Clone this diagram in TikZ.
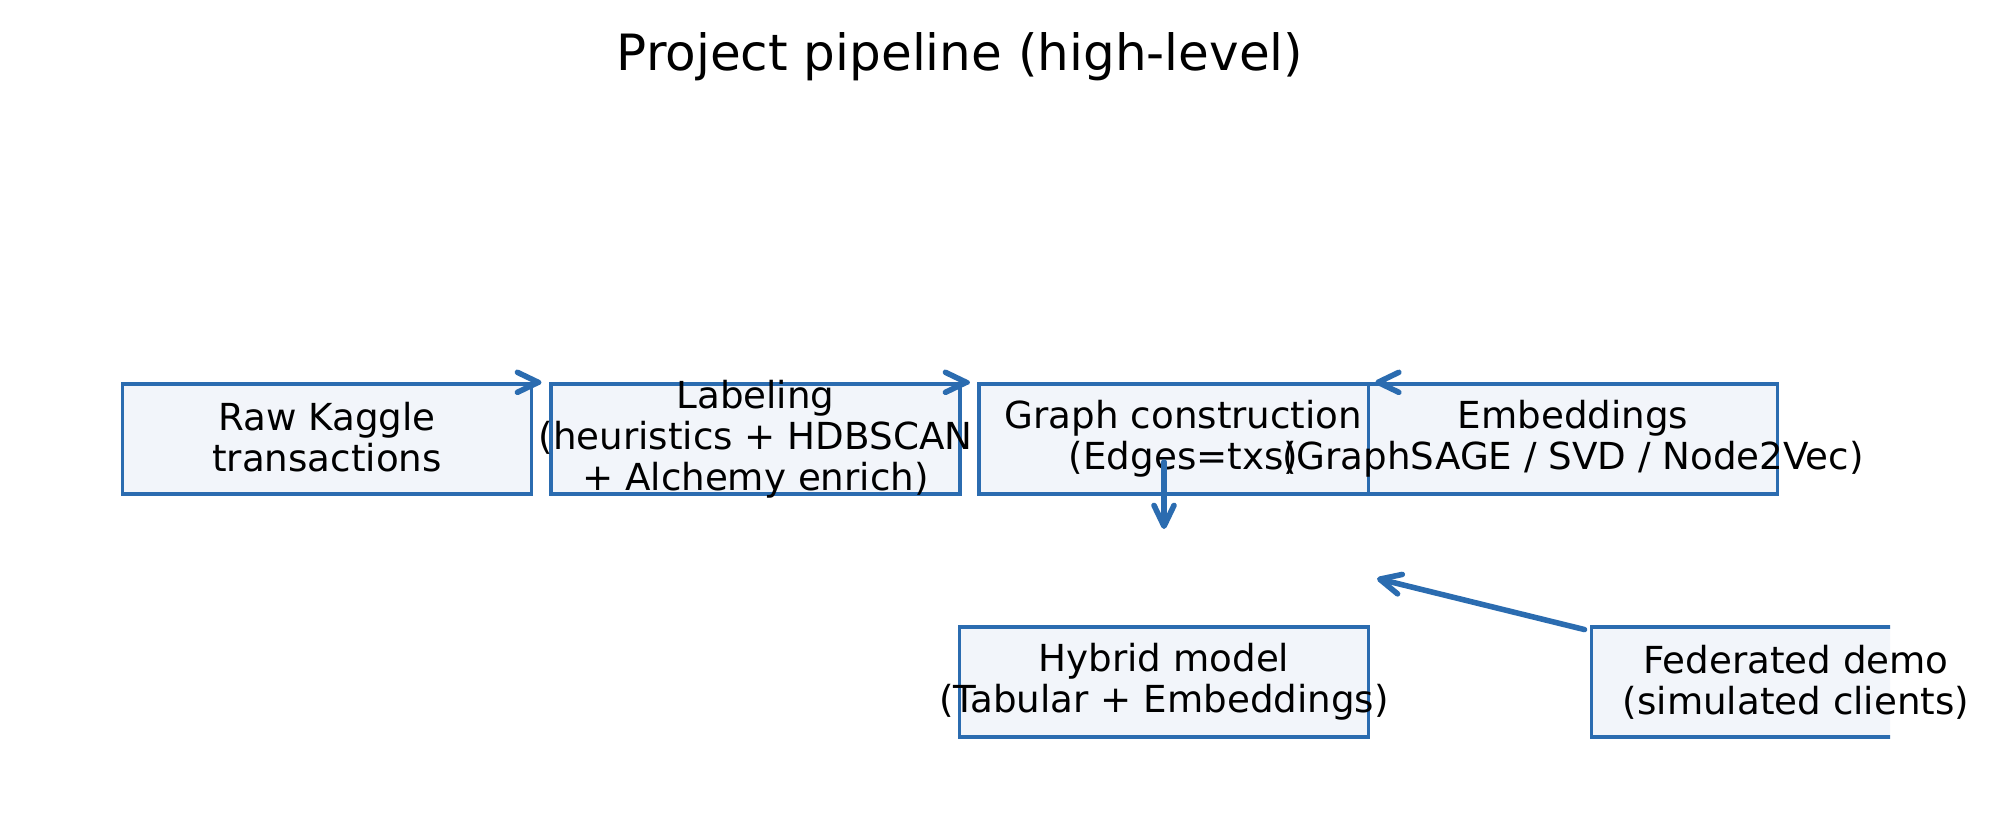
\documentclass[tikz,border=0pt]{standalone}
\usepackage{fontspec}
\setmainfont{DejaVu Sans}
\usetikzlibrary{arrows.meta,calc}
\definecolor{pipeblue}{RGB}{43,108,176}
\definecolor{pipefill}{RGB}{242,245,250}
\begin{document}
\begin{tikzpicture}[x=0.36pt,y=-0.36pt,
  stagebox/.style={draw=pipeblue,fill=pipefill,line width=1.2pt,minimum width=147.2pt,minimum height=39.6pt,inner sep=0pt},
  stagetext/.style={align=center,inner sep=0pt,font=\fontsize{13.4}{14.7}\selectfont},
  flow/.style={draw=pipeblue,line width=2pt,line cap=round,-{Straight Barb[round,length=7.5pt,width=7.2pt]}}]
  \fill[white] (0,0) rectangle (2001,816);

  \node[font=\fontsize{18}{21.6}\selectfont,anchor=base] (title) at (960,71) {Project pipeline (high-level)};

  % boxes first, texts on top
  \foreach \name/\cx/\cy in {raw/327/439, lab/755.5/439, graph/1183.5/439, emb/1573/439, hyb/1164/682}
    \node[stagebox] (\name) at (\cx,\cy) {};
  \begin{scope}
    \clip (0,0) rectangle (1890,816);
    \node[stagebox] (fed) at (1796,682) {};
  \end{scope}

  \node[stagetext] (rawtxt) at ([yshift=0.8pt]raw.center) {Raw Kaggle\\transactions};
  \node[stagetext] (labtxt) at (lab.center) {Labeling\\(heuristics + HDBSCAN\\+ Alchemy enrich)};
  \node[stagetext] (graphtxt) at (graph.center) {Graph construction\\(Edges=txs)};
  \node[stagetext] (embtxt) at (emb.center) {Embeddings\\(GraphSAGE / SVD / Node2Vec)};
  \node[stagetext] (hybtxt) at (hyb.center) {Hybrid model\\(Tabular + Embeddings)};
  \node[stagetext] (fedtxt) at (fed.center) {Federated demo\\(simulated clients)};

  \coordinate (graphout) at (1164,462);
  \coordinate (hybin) at (1164,529);
  \coordinate (fedend) at (1377,578.5);

  \draw[flow,shorten <=2pt,shorten >=3pt] (raw.north east) -- (lab.north west);
  \draw[flow,shorten <=2pt,shorten >=3pt] (lab.north east) -- (graph.north west);
  \draw[flow,shorten <=2pt,shorten >=3pt] (graph.north east) -- (emb.north west);
  \draw[flow] (graphout) -- (hybin);
  \draw[flow,shorten <=2pt] ([yshift=-2pt]fed.north west) -- (fedend);
\end{tikzpicture}
\end{document}
